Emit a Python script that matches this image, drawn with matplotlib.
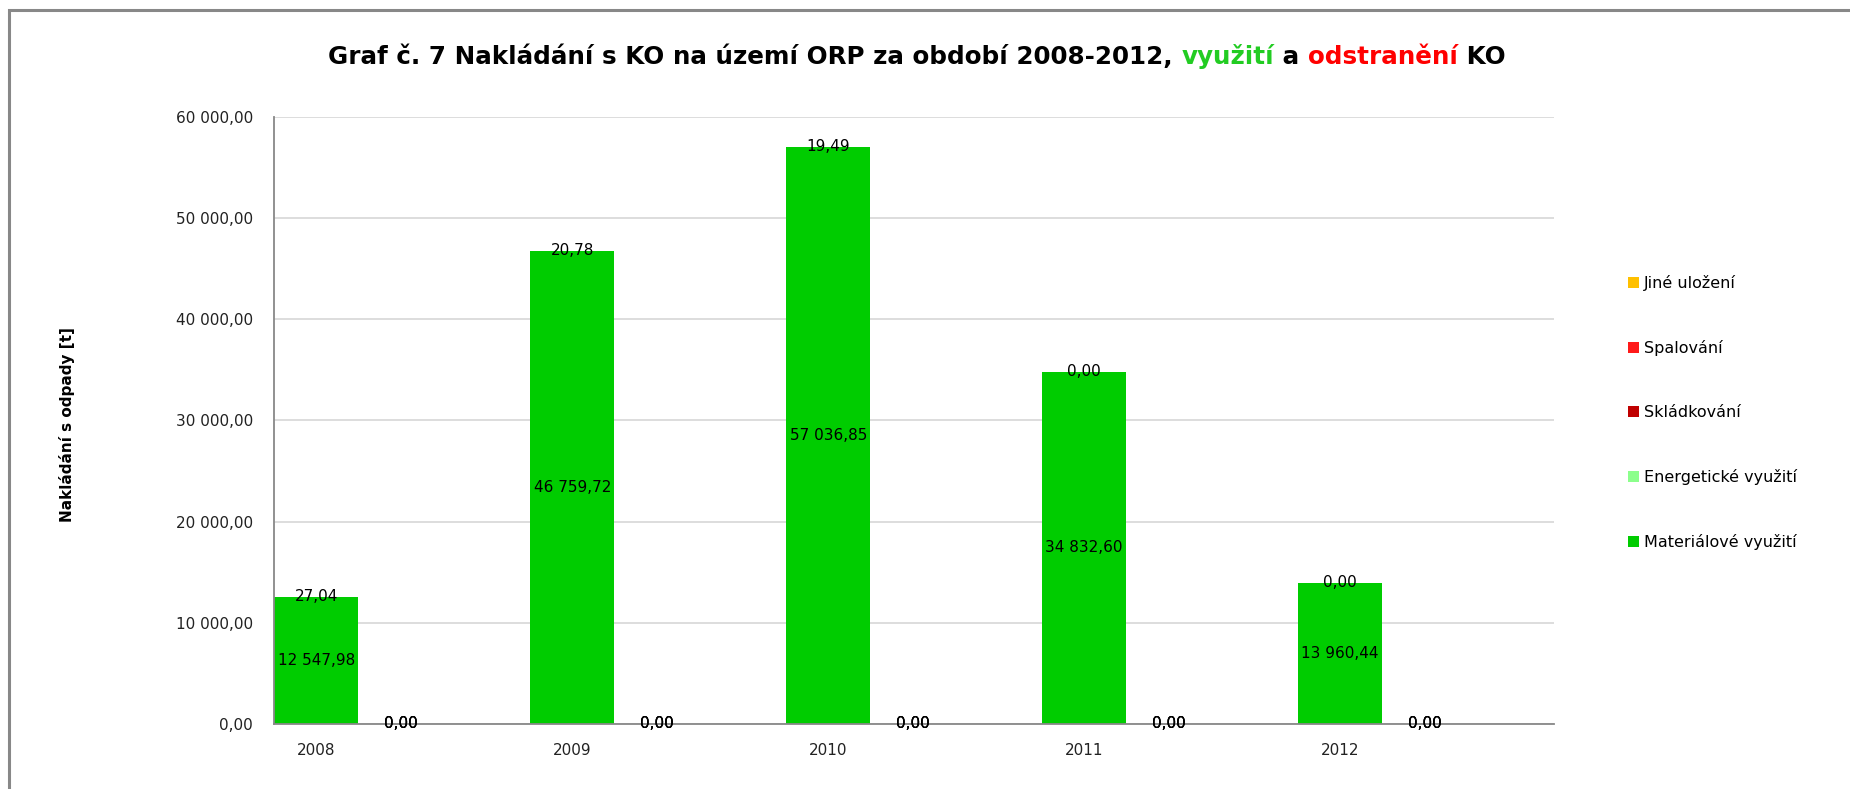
import matplotlib
matplotlib.use("Agg")
import matplotlib.pyplot as plt
from matplotlib import font_manager
from matplotlib.patches import Rectangle
import numpy as np

years = ["2008", "2009", "2010", "2011", "2012"]
materialove = [12547.98, 46759.72, 57036.85, 34832.60, 13960.44]
energeticke = [27.04, 20.78, 19.49, 0.00, 0.00]
skladkovani = [0.00, 0.00, 0.00, 0.00, 0.00]
spalovani = [0.00, 0.00, 0.00, 0.00, 0.00]
jine = [0.00, 0.00, 0.00, 0.00, 0.00]

series_names = ["Materiálové využití", "Energetické využití", "Skládkování",
                "Spalování", "Jiné uložení"]
colors = ["#00CC00", "#8CFF8C", "#C00000", "#FF1A1A", "#FFC000"]


def cz(v):
    return f"{v:,.2f}".replace(",", " ").replace(".", ",")


names = {f.name for f in font_manager.fontManager.ttflist}
title_font = "Liberation Sans Narrow" if "Liberation Sans Narrow" in names else "DejaVu Sans"

W, H = 1850, 789
fig = plt.figure(figsize=(W / 100, H / 100), dpi=100)
ax = fig.add_axes([274 / W, 1 - 724 / H, 1280 / W, 607 / H])

x = np.arange(len(years))
bw = 0.33
x1 = x + bw / 2
x2 = x + bw * 1.5

# vyuziti stack
c1 = ax.bar(x1, materialove, bw, color=colors[0], label=series_names[0], zorder=2)
c2 = ax.bar(x1, energeticke, bw, bottom=materialove, color=colors[1],
            label=series_names[1], zorder=2)
# odstraneni stack
b = np.zeros(len(years))
c3 = ax.bar(x2, skladkovani, bw, bottom=b, color=colors[2], label=series_names[2], zorder=2)
b = b + np.array(skladkovani)
c4 = ax.bar(x2, spalovani, bw, bottom=b, color=colors[3], label=series_names[3], zorder=2)
b = b + np.array(spalovani)
c5 = ax.bar(x2, jine, bw, bottom=b, color=colors[4], label=series_names[4], zorder=2)

for cont, vals in [(c1, materialove), (c2, energeticke), (c3, skladkovani),
                   (c4, spalovani), (c5, jine)]:
    ax.bar_label(cont, labels=[cz(v) for v in vals], label_type="center",
                 fontsize=11, color="black", zorder=3)

ax.set_xlim(0, 5)
ax.set_ylim(0, 60000)
ax.set_yticks(np.arange(0, 60001, 10000))
ax.set_yticklabels([cz(v) for v in np.arange(0, 60001, 10000)])
ax.set_xticks(x1)
ax.set_xticklabels(years)
ax.tick_params(axis="both", length=0, labelsize=11, colors="#222222")
ax.tick_params(axis="y", pad=15)
ax.tick_params(axis="x", pad=14)
ax.grid(axis="y", color="#DDDDDD", lw=1.4, zorder=0)
for s in ["top", "right"]:
    ax.spines[s].set_visible(False)
for s in ["left", "bottom"]:
    ax.spines[s].set_color("#888888")
    ax.spines[s].set_linewidth(1.3)
    ax.spines[s].set_zorder(2.5)

fig.text(67 / W, 1 - 425 / H, "Nakládání s odpady [t]", rotation=90,
         fontsize=11, fontweight="bold", ha="center", va="center")

h, l = ax.get_legend_handles_labels()
fig.legend(h[::-1], l[::-1], loc="upper left", bbox_to_anchor=(1628 / W, 1 - 275 / H),
           frameon=False, fontsize=11.5, handlelength=0.7, handleheight=0.7,
           handletextpad=0.3, labelspacing=3.07, borderpad=0, borderaxespad=0)

# title in colored pieces
parts = [("Graf č. 7 Nakládání s KO na území ORP za období 2008-2012, ", "black"),
         ("využití", "#22CC22"), (" a ", "black"), ("odstranění", "#FF0000"),
         (" KO", "black")]
tsize = 22 if title_font != "DejaVu Sans" else 17.7
title_y = 1 - 57 / H
first = fig.text(0, title_y, parts[0][0], color=parts[0][1], fontsize=tsize,
                 fontweight="bold", family=title_font, va="center", ha="left")
pieces = [first]
for txt, col in parts[1:]:
    pieces.append(fig.text(0, 0, txt, color=col, fontsize=tsize, fontweight="bold",
                           family=title_font, va="bottom", ha="left"))

fig.canvas.draw()
r = fig.canvas.get_renderer()
widths = [p.get_window_extent(r).width for p in pieces]
bb0 = first.get_window_extent(r)
cur = 917 - sum(widths) / 2
for p, wd in zip(pieces, widths):
    if p is first:
        p.set_position((cur / W, title_y))
    else:
        p.set_position((cur / W, bb0.y0 / H))
    cur += wd

fig.patches.append(Rectangle((9 / W, -0.1), 2, 1.1 - 10 / H, transform=fig.transFigure,
                             fill=False, edgecolor="#888888", lw=2.2))

fig.savefig("out.png", dpi=100)
